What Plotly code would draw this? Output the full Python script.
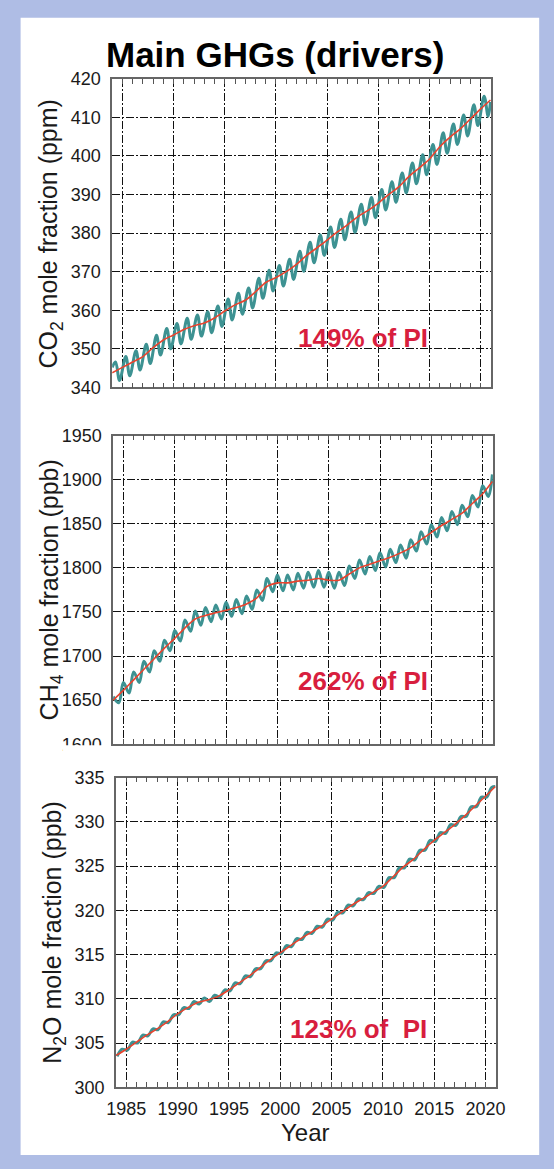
import plotly.graph_objects as go
from plotly.subplots import make_subplots

W, H = 554, 1169

# ---------------- data ----------------
years = list(range(1984, 2021))            # 1984..2020
trend_years = years + [2020.95]

# CO2 (ppm)
co2_trend = [343.8, 345.2, 346.6, 348.0, 350.3, 352.3, 353.6, 355.0, 356.0, 356.7,
             358.0, 359.8, 361.4, 362.6, 364.8, 367.2, 368.5, 370.0, 371.9, 374.2,
             376.2, 378.2, 380.3, 382.2, 384.3, 385.9, 387.8, 390.0, 392.0, 394.7,
             396.9, 399.2, 402.4, 404.9, 407.0, 409.6, 412.2, 414.5]
co2_peak = [346.6, 348.0, 349.5, 351.2, 353.5, 355.3, 356.6, 357.9, 358.8, 359.6,
            361.1, 362.9, 364.4, 365.8, 368.3, 370.4, 371.6, 373.2, 375.3, 377.6,
            379.5, 381.6, 383.6, 385.5, 387.5, 389.2, 391.3, 393.3, 395.6, 398.2,
            400.3, 403.0, 406.0, 408.3, 410.6, 413.3, 415.5]
co2_trough = [341.8, 343.0, 344.5, 346.2, 348.4, 350.0, 351.3, 352.5, 353.3, 354.2,
              355.8, 357.5, 359.0, 360.6, 363.1, 365.0, 366.3, 368.0, 370.1, 372.3,
              374.2, 376.3, 378.3, 380.2, 382.2, 384.0, 386.0, 388.0, 390.4, 392.8,
              395.1, 397.8, 400.7, 403.0, 405.2, 407.9, 410.3]
co2_start, co2_end = 345.2, 414.0
co2_peak_phase, co2_trough_phase = 0.33, 0.72

# CH4 (ppb)
ch4_trend = [1650, 1661, 1673, 1685, 1697, 1709, 1720, 1732, 1742, 1746,
             1749, 1752, 1755, 1759, 1766, 1779, 1783, 1783, 1785, 1786,
             1788, 1786, 1786, 1793, 1800, 1804, 1808, 1812, 1817, 1823,
             1832, 1840, 1848, 1855, 1862, 1873, 1884, 1898]
ch4_trough = [1647, 1658, 1670, 1682, 1694, 1706, 1717, 1728, 1735, 1739,
              1742, 1745, 1748, 1753, 1763, 1773, 1774, 1775, 1777, 1778,
              1778, 1777, 1780, 1788, 1793, 1797, 1801, 1806, 1811, 1819,
              1827, 1835, 1842, 1849, 1858, 1869, 1881]
ch4_peak = [1670, 1682, 1694, 1706, 1718, 1729, 1741, 1751, 1755, 1758,
            1761, 1764, 1768, 1775, 1788, 1792, 1792, 1794, 1795, 1797,
            1795, 1795, 1802, 1809, 1813, 1817, 1821, 1826, 1832, 1841,
            1849, 1857, 1864, 1871, 1882, 1893, 1906]
ch4_start = 1654
ch4_trough_phase, ch4_peak_phase = 0.55, 1.0

# N2O (ppb)
n2o_trend = [303.6, 304.3, 305.1, 305.9, 306.6, 307.4, 308.3, 309.0, 309.6, 309.9,
             310.3, 311.0, 311.8, 312.6, 313.5, 314.4, 315.2, 316.0, 316.8, 317.5,
             318.2, 319.0, 319.8, 320.6, 321.3, 322.0, 322.7, 323.8, 324.9, 325.8,
             326.9, 327.9, 328.8, 329.7, 330.7, 331.8, 332.9, 334.0]
n2o_trough = [303.5, 304.2, 305.0, 305.8, 306.5, 307.3, 308.2, 308.9, 309.4, 309.7,
              310.2, 310.9, 311.7, 312.5, 313.4, 314.3, 315.1, 315.9, 316.7, 317.4,
              318.1, 318.9, 319.7, 320.5, 321.2, 321.9, 322.6, 323.7, 324.8, 325.7,
              326.8, 327.8, 328.7, 329.6, 330.6, 331.7, 332.8]
n2o_peak = [304.3, 305.1, 305.9, 306.6, 307.4, 308.2, 309.0, 309.7, 310.1, 310.4,
            311.0, 311.8, 312.6, 313.4, 314.3, 315.2, 316.0, 316.8, 317.5, 318.2,
            319.0, 319.8, 320.6, 321.3, 322.0, 322.7, 323.7, 324.8, 325.8, 326.8,
            327.9, 328.8, 329.7, 330.6, 331.7, 332.8, 333.9]
n2o_end = 334.0
n2o_trough_phase, n2o_peak_phase = 0.1, 0.6

x_ticks = [1985, 1990, 1995, 2000, 2005, 2010, 2015, 2020]
co2_ticks = [340, 350, 360, 370, 380, 390, 400, 410, 420]
ch4_ticks = [1600, 1650, 1700, 1750, 1800, 1850, 1900, 1950]
n2o_ticks = [300, 305, 310, 315, 320, 325, 330, 335]
labels = ["149% of PI", "262% of PI", "123% of\u00a0 PI"]
X_END = 2020.95


def seasonal(first, second, ph1, ph2, start=None, end=None):
    xs, ys = [], []
    if start is not None:
        xs.append(years[0]); ys.append(start)
    for y, a, b in zip(years, first, second):
        xs += [min(y + ph1, X_END), min(y + ph2, X_END)]
        ys += [a, b]
    if end is not None:
        xs.append(X_END); ys.append(end)
    return xs, ys


TEAL = "#3d9292"
RED = "#e8432e"
CRIMSON = "#d81e3e"
BLUE_BG = "#afbde5"
SANS = "Liberation Sans, Arial, Helvetica, sans-serif"
TICKFONT = dict(family=SANS, size=18, color="#1a1a1a")
GRIDDASH = "8px,2px,2px,2px"

fig = make_subplots(rows=3, cols=1)

panels = [
    (seasonal(co2_peak, co2_trough, co2_peak_phase, co2_trough_phase, co2_start, co2_end), co2_trend),
    (seasonal(ch4_trough, ch4_peak, ch4_trough_phase, ch4_peak_phase, ch4_start, None), ch4_trend),
    (seasonal(n2o_trough, n2o_peak, n2o_trough_phase, n2o_peak_phase, None, n2o_end), n2o_trend),
]
for i, ((tx, ty), tr) in enumerate(panels, start=1):
    fig.add_trace(go.Scatter(x=tx, y=ty, mode="lines",
                             line=dict(color=TEAL, width=3.0, shape="spline", smoothing=1.0),
                             hoverinfo="skip", showlegend=False), row=i, col=1)
    fig.add_trace(go.Scatter(x=trend_years, y=tr, mode="lines",
                             line=dict(color=RED, width=1.6, shape="spline", smoothing=0.8),
                             hoverinfo="skip", showlegend=False), row=i, col=1)

# pixel geometry of panels: (left, right, top, bottom)
geo = [(106, 499, 70, 384), (107, 501, 433, 747), (110, 504, 781, 1096)]
yranges = [(340, 420), (1600, 1950), (300, 335)]
yticks = [co2_ticks, ch4_ticks, n2o_ticks]

for i, ((l, r, t, b), yr, yt) in enumerate(zip(geo, yranges, yticks), start=1):
    xs = "" if i == 1 else str(i)
    fig.layout["xaxis" + xs].update(
        domain=[l / W, r / W], range=[1984, 2021], tickvals=x_ticks,
        showticklabels=(i == 3), tickfont=TICKFONT, ticklabelstandoff=4,
        ticks="inside", ticklen=5, tickcolor="#555", tickwidth=1,
        minor=dict(dtick=1, tick0=1984, ticks="inside", ticklen=5, tickcolor="#555", showgrid=False),
        showgrid=True, gridcolor="#111", gridwidth=1, griddash=GRIDDASH,
        showline=True, linecolor="#666", linewidth=1.6, mirror="allticks",
        zeroline=False, fixedrange=True, anchor="y" + xs)
    fig.layout["yaxis" + xs].update(
        domain=[1 - b / H, 1 - t / H], range=list(yr), tickvals=yt,
        tickfont=TICKFONT, ticks="", ticklabelstandoff=6,
        showgrid=True, gridcolor="#111", gridwidth=1, griddash=GRIDDASH,
        showline=True, linecolor="#666", linewidth=1.6, mirror=True,
        zeroline=False, fixedrange=True, anchor="x" + xs)

ann = []
ann.append(dict(text="<b>Main GHGs (drivers)</b>", x=275 / W, y=1 - 45 / H, xref="paper", yref="paper",
                showarrow=False, xanchor="center", yanchor="middle",
                font=dict(family=SANS, size=35, color="#000")))
ytitles = ["CO<sub>2</sub> mole fraction (ppm)", "CH<sub>4</sub> mole fraction (ppb)",
           "N<sub>2</sub>O mole fraction (ppb)"]
ytx = [42, 42, 46]
for (l, r, t, b), txt, xx in zip(geo, ytitles, ytx):
    ann.append(dict(text=txt, x=xx / W, y=1 - (t + b) / 2 / H, xref="paper", yref="paper",
                    showarrow=False, textangle=-90, xanchor="center", yanchor="middle",
                    font=dict(family=SANS, size=25, color="#1a1a1a")))
lab_pos = [(366, 334), (366, 683), (362, 1037)]
for txt, (px, py) in zip(labels, lab_pos):
    ann.append(dict(text="<b>" + txt + "</b>", x=px / W, y=1 - py / H, xref="paper", yref="paper",
                    showarrow=False, xanchor="center", yanchor="middle",
                    font=dict(family=SANS, size=26, color=CRIMSON)))
ann.append(dict(text="Year", x=307 / W, y=1 - 1142 / H, xref="paper", yref="paper",
                showarrow=False, xanchor="center", yanchor="middle",
                font=dict(family=SANS, size=24, color="#1a1a1a")))

shapes = [
    dict(type="rect", xref="paper", yref="paper", x0=11 / W, x1=549 / W, y0=1 - 1165 / H, y1=1 - 8 / H,
         fillcolor="white", line=dict(width=0), layer="below"),
    dict(type="rect", xref="paper", yref="paper", x0=55 / W, x1=104 / W, y0=1 - 768 / H, y1=1 - 748 / H,
         fillcolor="white", line=dict(width=0), layer="above"),
]

fig.update_layout(width=W, height=H, margin=dict(l=0, r=0, t=0, b=0),
                  paper_bgcolor=BLUE_BG, plot_bgcolor="white",
                  annotations=ann, shapes=shapes, showlegend=False)

fig.write_html("out.html", config={"displayModeBar": False},
               post_script="document.body.style.margin='0';")
